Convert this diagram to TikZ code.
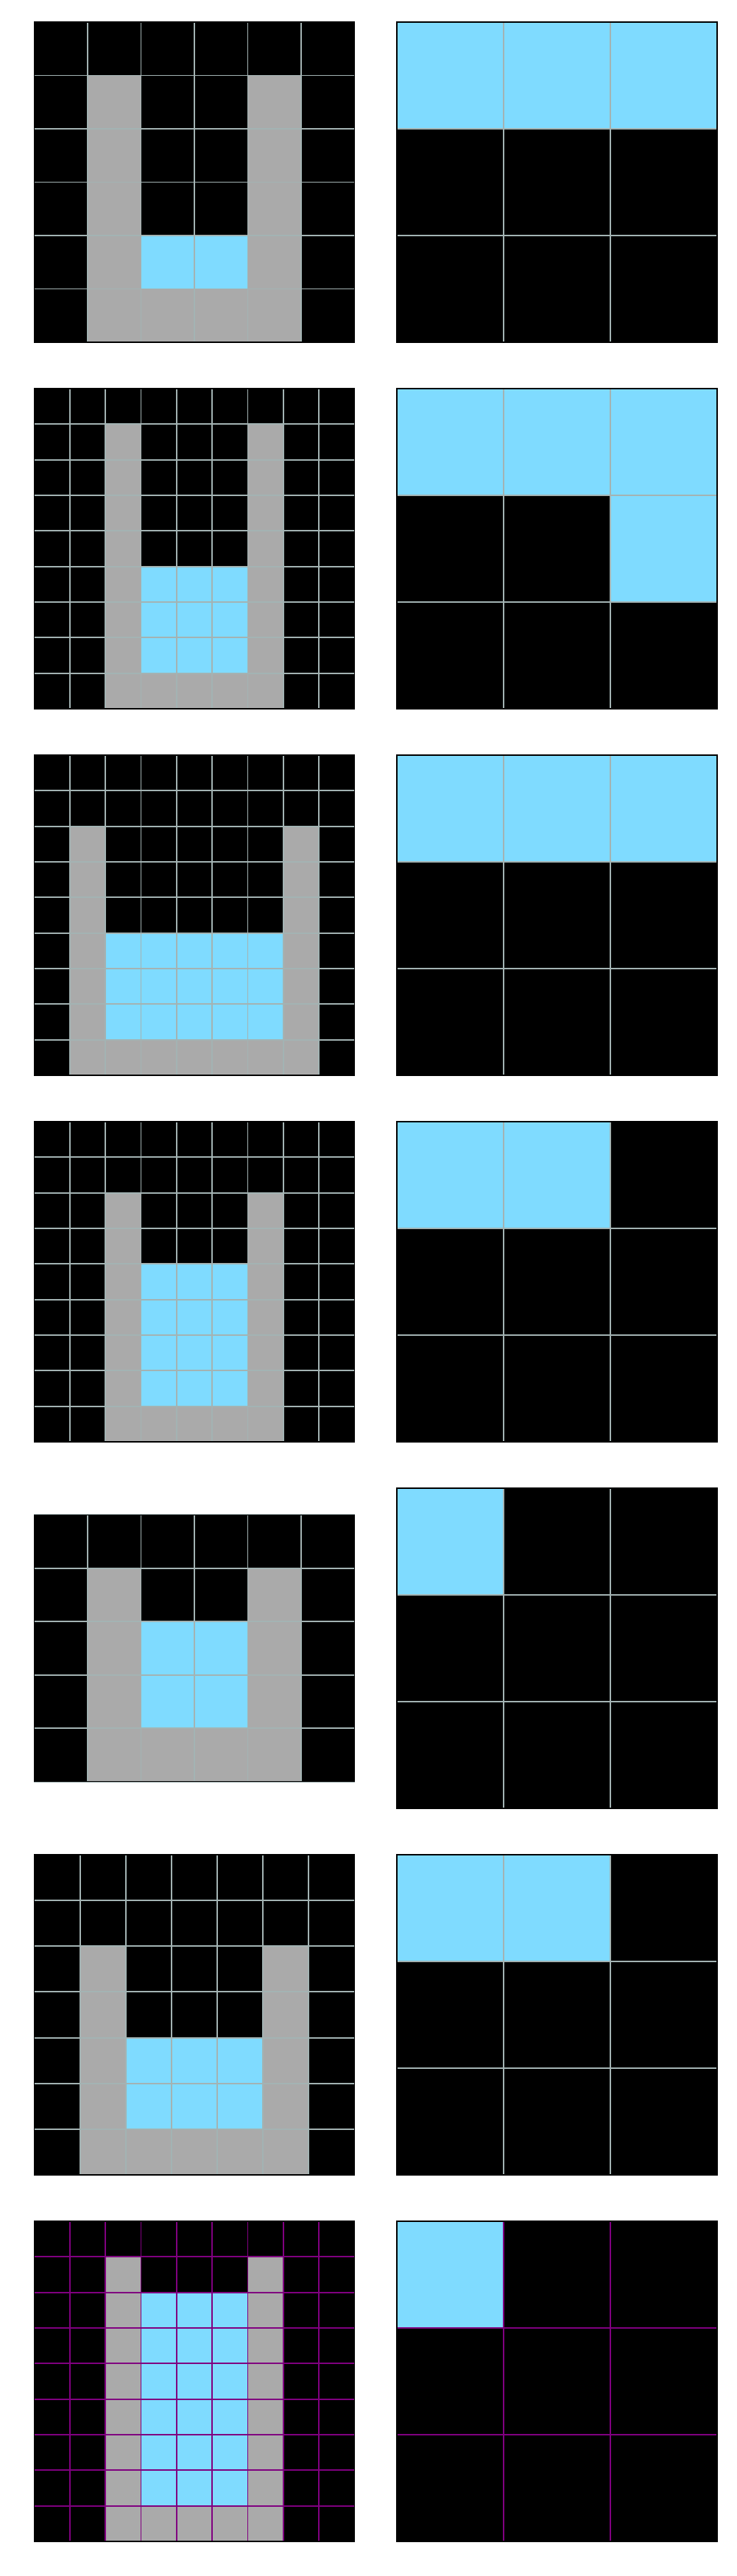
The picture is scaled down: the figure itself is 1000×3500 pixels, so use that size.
\documentclass[tikz,border=0pt]{standalone}
\usepackage{tikz}

\definecolor{c0}{HTML}{000000} % 黒（背景のマス）
\definecolor{c5}{HTML}{AAAAAA} % 灰色（容器の壁）
\definecolor{c8}{HTML}{7FDBFF} % 水色（中の水）
\definecolor{lineg}{HTML}{A3B3B3} % 通常の格子線の色
\definecolor{linep}{HTML}{800080} % 最後の組だけ紫の格子線

% 中心 (#1,#2)、マスの大きさ #3、列数 #4、行数 #5、線の色 #6、各行の色番号 #7
\newcommand{\arcgrid}[7]{%
  \pgfmathsetmacro{\gx}{#1-#4*#3/2}%
  \pgfmathsetmacro{\gy}{#2-#5*#3/2}%
  \foreach \gr [count=\i from 0] in {#7} {%
    \foreach \gc [count=\j from 0] in \gr {%
      \draw[draw=#6,line width=0.55pt,fill=c\gc] (\gx+\j*#3,\gy+\i*#3) rectangle ++(#3,#3);
    }%
  }%
  \draw[black,line width=0.4pt] (\gx,\gy) rectangle ++(#4*#3,#5*#3); % 外枠
}

\begin{document}
\begin{tikzpicture}[x=0.1mm,y=-0.1mm]
  \fill[white] (0,0) rectangle (1000,3500); % 余白を含めた全体の大きさ
  \useasboundingbox (0,0) rectangle (1000,3500);

  \arcgrid{264}{247.5}{72.5}{6}{6}{lineg}{{0,0,0,0,0,0},{0,5,0,0,5,0},{0,5,0,0,5,0},{0,5,0,0,5,0},{0,5,8,8,5,0},{0,5,5,5,5,0}} % 1組目の入力
  \arcgrid{756.5}{247.5}{145}{3}{3}{lineg}{{8,8,8},{0,0,0},{0,0,0}} % 1組目の出力

  \arcgrid{264}{745.5}{48.333}{9}{9}{lineg}{{0,0,0,0,0,0,0,0,0},{0,0,5,0,0,0,5,0,0},{0,0,5,0,0,0,5,0,0},{0,0,5,0,0,0,5,0,0},{0,0,5,0,0,0,5,0,0},{0,0,5,8,8,8,5,0,0},{0,0,5,8,8,8,5,0,0},{0,0,5,8,8,8,5,0,0},{0,0,5,5,5,5,5,0,0}} % 2組目の入力
  \arcgrid{756.5}{745.5}{145}{3}{3}{lineg}{{8,8,8},{0,0,8},{0,0,0}} % 2組目の出力

  \arcgrid{264}{1243.5}{48.333}{9}{9}{lineg}{{0,0,0,0,0,0,0,0,0},{0,0,0,0,0,0,0,0,0},{0,5,0,0,0,0,0,5,0},{0,5,0,0,0,0,0,5,0},{0,5,0,0,0,0,0,5,0},{0,5,8,8,8,8,8,5,0},{0,5,8,8,8,8,8,5,0},{0,5,8,8,8,8,8,5,0},{0,5,5,5,5,5,5,5,0}} % 3組目の入力
  \arcgrid{756.5}{1243.5}{145}{3}{3}{lineg}{{8,8,8},{0,0,0},{0,0,0}} % 3組目の出力

  \arcgrid{264}{1741.5}{48.333}{9}{9}{lineg}{{0,0,0,0,0,0,0,0,0},{0,0,0,0,0,0,0,0,0},{0,0,5,0,0,0,5,0,0},{0,0,5,0,0,0,5,0,0},{0,0,5,8,8,8,5,0,0},{0,0,5,8,8,8,5,0,0},{0,0,5,8,8,8,5,0,0},{0,0,5,8,8,8,5,0,0},{0,0,5,5,5,5,5,0,0}} % 4組目の入力
  \arcgrid{756.5}{1741.5}{145}{3}{3}{lineg}{{8,8,0},{0,0,0},{0,0,0}} % 4組目の出力

  \arcgrid{264}{2239.5}{72.5}{6}{5}{lineg}{{0,0,0,0,0,0},{0,5,0,0,5,0},{0,5,8,8,5,0},{0,5,8,8,5,0},{0,5,5,5,5,0}} % 5組目の入力（横長）
  \arcgrid{756.5}{2239.5}{145}{3}{3}{lineg}{{8,0,0},{0,0,0},{0,0,0}} % 5組目の出力

  \arcgrid{264}{2737.5}{62.143}{7}{7}{lineg}{{0,0,0,0,0,0,0},{0,0,0,0,0,0,0},{0,5,0,0,0,5,0},{0,5,0,0,0,5,0},{0,5,8,8,8,5,0},{0,5,8,8,8,5,0},{0,5,5,5,5,5,0}} % 6組目の入力
  \arcgrid{756.5}{2737.5}{145}{3}{3}{lineg}{{8,8,0},{0,0,0},{0,0,0}} % 6組目の出力

  \arcgrid{264}{3235.5}{48.333}{9}{9}{linep}{{0,0,0,0,0,0,0,0,0},{0,0,5,0,0,0,5,0,0},{0,0,5,8,8,8,5,0,0},{0,0,5,8,8,8,5,0,0},{0,0,5,8,8,8,5,0,0},{0,0,5,8,8,8,5,0,0},{0,0,5,8,8,8,5,0,0},{0,0,5,8,8,8,5,0,0},{0,0,5,5,5,5,5,0,0}} % 7組目の入力（紫の線）
  \arcgrid{756.5}{3235.5}{145}{3}{3}{linep}{{8,0,0},{0,0,0},{0,0,0}} % 7組目の出力
\end{tikzpicture}
\end{document}
